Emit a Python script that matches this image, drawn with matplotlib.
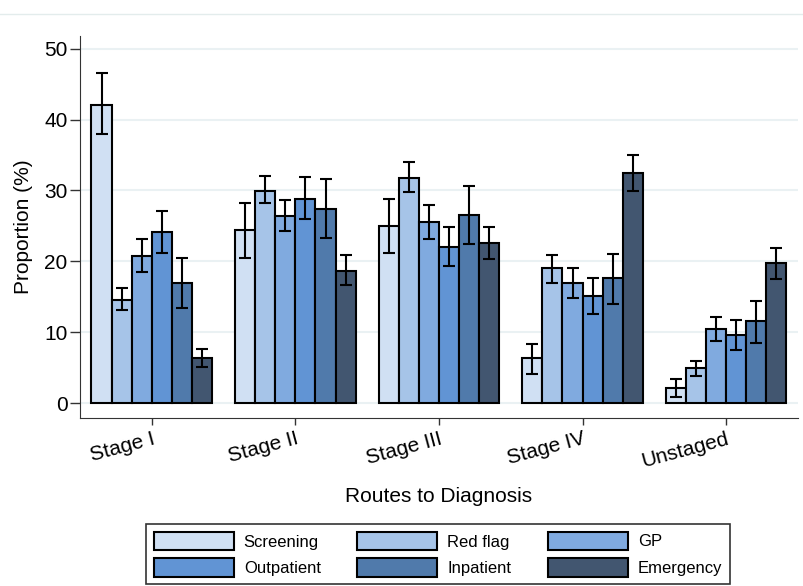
import numpy as np
import matplotlib
matplotlib.use('Agg')
import matplotlib.pyplot as plt
from matplotlib.lines import Line2D

stages = ['Stage I', 'Stage II', 'Stage III', 'Stage IV', 'Unstaged']
routes = ['Screening', 'Red flag', 'GP', 'Outpatient', 'Inpatient', 'Emergency']
colors = ['#d0e0f3', '#a6c4e8', '#80aadf', '#6194d4', '#507aab', '#425670']

# proportion (%) per route, one value per stage
screening = [42.1, 24.4, 25.0, 6.4, 2.1]
red_flag = [14.6, 29.9, 31.8, 19.0, 4.9]
gp = [20.8, 26.4, 25.5, 16.9, 10.5]
outpatient = [24.2, 28.8, 22.0, 15.1, 9.6]
inpatient = [17.0, 27.4, 26.5, 17.7, 11.6]
emergency = [6.3, 18.7, 22.6, 32.5, 19.7]

# 95% CI lower / upper
screening_lo = [37.9, 20.5, 21.2, 4.1, 0.8]
screening_hi = [46.5, 28.2, 28.8, 8.3, 3.4]
red_flag_lo = [13.1, 28.2, 29.8, 17.0, 3.8]
red_flag_hi = [16.2, 32.0, 34.0, 20.9, 6.0]
gp_lo = [18.5, 24.3, 23.2, 14.8, 8.8]
gp_hi = [23.1, 28.7, 27.9, 19.0, 12.1]
outpatient_lo = [21.2, 26.0, 19.3, 12.6, 7.5]
outpatient_hi = [27.1, 31.9, 24.9, 17.7, 11.7]
inpatient_lo = [13.4, 23.3, 22.5, 14.0, 8.5]
inpatient_hi = [20.5, 31.6, 30.6, 21.1, 14.4]
emergency_lo = [5.1, 16.7, 20.4, 29.9, 17.5]
emergency_hi = [7.6, 20.9, 24.9, 35.0, 21.9]

vals = [screening, red_flag, gp, outpatient, inpatient, emergency]
los = [screening_lo, red_flag_lo, gp_lo, outpatient_lo, inpatient_lo, emergency_lo]
his = [screening_hi, red_flag_hi, gp_hi, outpatient_hi, inpatient_hi, emergency_hi]

plt.rcParams['font.family'] = ['Liberation Sans', 'DejaVu Sans']

fig = plt.figure(figsize=(8.04, 5.86), dpi=100)
ax = fig.add_axes([0.0995, 0.2867, 0.893, 0.652])

x = np.arange(len(stages))
w = 0.14
bars = []
for i, r in enumerate(routes):
    xs = x + (i - 2.5) * w
    v = np.array(vals[i])
    err = [v - np.array(los[i]), np.array(his[i]) - v]
    b = ax.bar(xs, v, w, color=colors[i], edgecolor='black', linewidth=1.5, label=r, zorder=2)
    bars.append(b)
    ax.errorbar(xs, v, yerr=err, fmt='none', ecolor='black', elinewidth=1.5,
                capsize=4, capthick=1.5, zorder=3)

ax.set_xlim(-0.5, 4.5)
ax.set_ylim(-2.1, 51.8)
ax.set_yticks([0, 10, 20, 30, 40, 50])
ax.yaxis.grid(True, color='#eaf1f3', linewidth=1.5, zorder=0)
ax.set_axisbelow(True)
for s in ['top', 'right']:
    ax.spines[s].set_visible(False)
ax.spines['left'].set_color('#333333')
ax.spines['bottom'].set_color('#333333')
ax.tick_params(axis='y', labelsize=15, length=7, width=1, color='#333333', pad=2)
ax.tick_params(axis='x', labelsize=15, length=5, width=1, color='#333333', pad=3)
ax.set_xticks(x)
ax.set_xticklabels(stages, rotation=15, ha='right', va='top', rotation_mode='anchor')
ax.set_ylabel('Proportion (%)', fontsize=15, labelpad=8)
ax.set_xlabel('Routes to Diagnosis', fontsize=15, labelpad=12)

fig.add_artist(Line2D([0, 1], [1 - 14 / 586, 1 - 14 / 586], color='#e3ecec', linewidth=1))

# row-major order for the 3-column legend
order = [0, 3, 1, 4, 2, 5]
leg = fig.legend([bars[k] for k in order], [routes[k] for k in order],
                 loc='upper center', bbox_to_anchor=(0.545, 1 - 516 / 586), ncol=3,
                 fontsize=12, frameon=True, fancybox=False, edgecolor='black',
                 handlelength=4.8, handleheight=1.3, columnspacing=2.2,
                 handletextpad=0.6, labelspacing=0.5, borderpad=0.45)
leg.get_frame().set_linewidth(1.2)
for p in leg.get_patches():
    p.set_linewidth(1.5)

fig.savefig('out.png', dpi=100)
